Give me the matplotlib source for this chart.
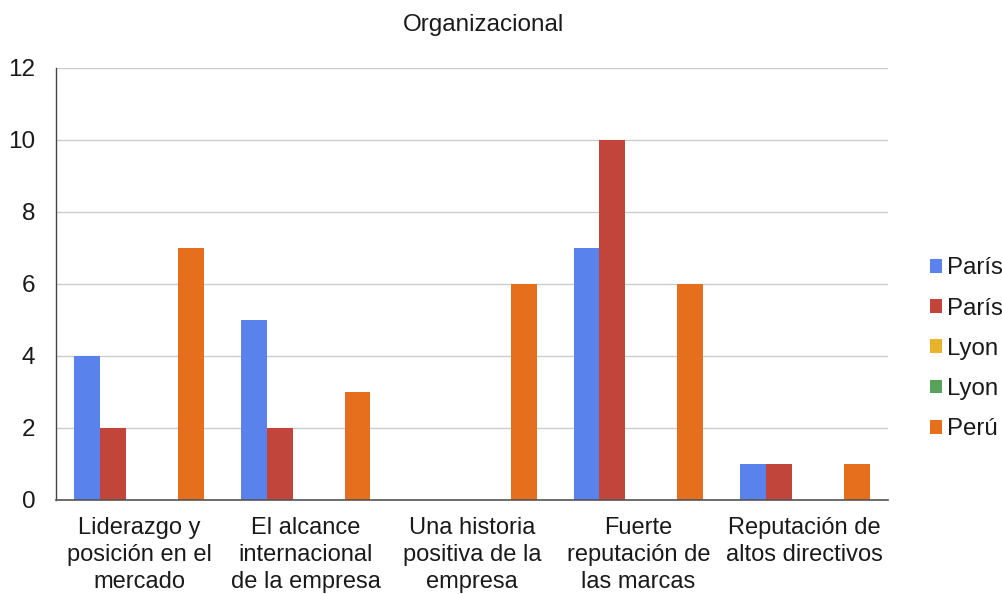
import matplotlib
matplotlib.use("Agg")
import matplotlib.pyplot as plt
import numpy as np

categories = [
    "Liderazgo y\nposición en el\nmercado",
    "El alcance\ninternacional\nde la empresa",
    "Una historia\npositiva de la\nempresa",
    "Fuerte\nreputación de\nlas marcas",
    "Reputación de\naltos directivos",
]
series_names = ["París", "París", "Lyon", "Lyon", "Perú"]
paris_a = [4, 5, 0, 7, 1]
paris_b = [2, 2, 0, 10, 1]
lyon_a = [0, 0, 0, 0, 0]
lyon_b = [0, 0, 0, 0, 0]
peru = [7, 3, 6, 6, 1]
series_values = [paris_a, paris_b, lyon_a, lyon_b, peru]
colors = ["#5a82ec", "#c2453b", "#e9b22b", "#58a35b", "#e56f1c"]
yticks = [0, 2, 4, 6, 8, 10, 12]

plt.rcParams["font.family"] = ["Liberation Sans", "DejaVu Sans"]

fig = plt.figure(figsize=(10.03, 5.94), dpi=100)
ax = fig.add_axes([56 / 1003, 1 - 500 / 594, (888 - 56) / 1003, (500 - 68) / 594])

x = np.arange(len(categories))
n = len(series_values)
width = 0.156
for i, (vals, name, col) in enumerate(zip(series_values, series_names, colors)):
    offs = (i - (n - 1) / 2) * width
    ax.bar(x + offs, vals, width=width, color=col, label=name, zorder=3)

ax.set_xlim(-0.5, len(categories) - 0.5)
ax.set_ylim(0, 12)
ax.set_yticks(yticks)
ax.set_yticklabels([str(t) for t in yticks], fontsize=17.5)
ax.set_xticks(x)
ax.set_xticklabels(categories, fontsize=17, linespacing=1.3)
ax.tick_params(axis="both", length=0, colors="#1a1a1a")
ax.tick_params(axis="y", pad=15)
ax.tick_params(axis="x", pad=12)

ax.grid(axis="y", color="#cccccc", linewidth=1, zorder=0)
for s in ["top", "right"]:
    ax.spines[s].set_visible(False)
ax.spines["left"].set_color("#444444")
ax.spines["left"].set_linewidth(1)
ax.spines["bottom"].set_color("#555555")
ax.spines["bottom"].set_linewidth(1.2)
ax.spines["bottom"].set_zorder(4)

fig.text(484 / 1003, 1 - 25 / 594, "Organizacional", ha="center", va="center",
         fontsize=17.5, color="#1a1a1a")

leg = ax.legend(loc="center left", bbox_to_anchor=(1.05, 0.35), frameon=False,
                fontsize=17.3, handlelength=0.5, handleheight=0.5,
                handletextpad=0.22, labelspacing=0.76, borderaxespad=0,
                borderpad=0)
for t in leg.get_texts():
    t.set_color("#1a1a1a")

fig.savefig("out.png", dpi=100)
